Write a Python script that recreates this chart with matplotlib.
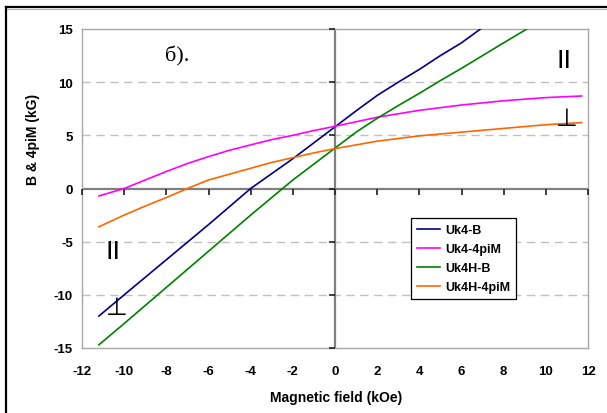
import matplotlib
matplotlib.use("Agg")
import matplotlib.pyplot as plt
from matplotlib.lines import Line2D

plt.rcParams['font.family'] = ['Liberation Sans', 'DejaVu Sans']
plt.rcParams['axes.unicode_minus'] = False

# data (field in kOe, B / 4piM in kG)
uk4_b_x = [-11.2, -10, -9, -8, -7, -6, -5, -4, -3, -2, -1, 0, 1, 2, 3, 4, 5, 6, 6.9]
uk4_b_y = [-12.0, -10.0, -8.35, -6.7, -5.05, -3.4, -1.7, 0.0, 1.4, 2.8, 4.3, 5.8, 7.3,
           8.75, 10.0, 11.2, 12.5, 13.7, 15.0]

uk4_m_x = [-11.2, -10, -9, -8, -7, -6, -5, -4, -3, -2, -1, 0, 2, 4, 6, 8, 10, 11.7]
uk4_m_y = [-0.7, 0.0, 0.8, 1.6, 2.35, 3.0, 3.6, 4.1, 4.6, 5.0, 5.45, 5.85, 6.7, 7.35,
           7.85, 8.25, 8.55, 8.7]

uk4h_b_x = [-11.2, -10, -9, -8, -7, -6, -5, -4, -3, -2, -1, 0, 1, 2, 3, 4, 5, 6, 7, 8, 9.1]
uk4h_b_y = [-14.7, -12.7, -11.0, -9.3, -7.6, -5.9, -4.2, -2.5, -0.85, 0.8, 2.3, 3.8, 5.3,
            6.6, 7.8, 8.95, 10.15, 11.3, 12.5, 13.7, 15.0]

uk4h_m_x = [-11.2, -10, -9, -8, -7, -6, -5, -4, -3, -2, -1, 0, 2, 4, 6, 8, 10, 11.7]
uk4h_m_y = [-3.6, -2.5, -1.65, -0.85, 0.0, 0.8, 1.35, 1.9, 2.45, 2.9, 3.35, 3.75, 4.45,
            4.95, 5.3, 5.65, 6.0, 6.2]

labels = ['Uk4-B', 'Uk4-4piM', 'Uk4H-B', 'Uk4H-4piM']
colors = ['#000080', '#FF00FF', '#008000', '#FF6600']

x_ticks = list(range(-12, 13, 2))
y_ticks = list(range(-15, 16, 5))
grid_y = [-10, -5, 5, 10]

fig = plt.figure(figsize=(6.07, 4.14), dpi=100)
W, H = 607, 414
ax = fig.add_axes([82 / W, 1 - 349 / H, (588 - 82) / W, (349 - 30) / H])

for gy in grid_y:
    ax.axhline(gy, color='#C0C0C0', lw=1, ls=(0, (6, 4)), zorder=1)

ax.axhline(0, color='#808080', lw=1.6, zorder=2)
ax.axvline(0, color='#808080', lw=1.6, zorder=2)
# small tick marks on the zero axes
ax.plot(x_ticks, [0] * len(x_ticks), ls='none', marker=3, ms=4, mew=1.2,
        color='#202020', zorder=3, clip_on=False)
ax.plot([0] * len(y_ticks), y_ticks, ls='none', marker=0, ms=4, mew=1.2,
        color='#202020', zorder=3, clip_on=False)

series = [(uk4_b_x, uk4_b_y), (uk4_m_x, uk4_m_y), (uk4h_b_x, uk4h_b_y), (uk4h_m_x, uk4h_m_y)]
for (xs, ys), lab, c in zip(series, labels, colors):
    ax.plot(xs, ys, color=c, lw=1.2, label=lab, zorder=4)

ax.set_xlim(-12, 12)
ax.set_ylim(-15, 15)
ax.set_xticks(x_ticks)
ax.set_yticks(y_ticks)
ax.tick_params(axis='x', length=0, pad=12, labelsize=9.5)
ax.tick_params(axis='y', length=0, pad=6.5, labelsize=9.5)
for t in ax.get_xticklabels() + ax.get_yticklabels():
    t.set_fontweight('bold')
for s in ax.spines.values():
    s.set_color('#A8A8A8')
    s.set_linewidth(1)

leg = ax.legend(loc='upper left', bbox_to_anchor=(411 / W, 1 - 219 / H),
                bbox_transform=fig.transFigure, fancybox=False, framealpha=1,
                edgecolor='black', prop={'weight': 'bold', 'size': 9},
                handlelength=1.8, handletextpad=0.4, labelspacing=0.55,
                borderpad=0.5, borderaxespad=0)
leg.get_frame().set_linewidth(0.9)

# annotations
fig.text(177 / W, 1 - 56 / H, 'б).', fontsize=16, family='Liberation Serif',
         ha='center', va='center')
fig.text(564 / W, 1 - 61 / H, 'II', fontsize=18, family='DejaVu Sans', ha='center', va='center')
fig.text(113 / W, 1 - 252 / H, 'II', fontsize=18, family='DejaVu Sans', ha='center', va='center')
fig.text(567 / W, 1 - 119 / H, '⊥', fontsize=18, family='DejaVu Sans', ha='center', va='center')
fig.text(117 / W, 1 - 308 / H, '⊥', fontsize=18, family='DejaVu Sans', ha='center', va='center')

fig.text(336 / W, 1 - 398 / H, 'Magnetic field (kOe)', fontsize=10, fontweight='bold',
         ha='center', va='center')
fig.text(33 / W, 1 - 139 / H, 'B & 4piM (kG)', fontsize=10, fontweight='bold',
         ha='center', va='center', rotation=90)

# outer chart border (top and left visible)
fig.add_artist(Line2D([6 / W, 1], [1 - 8 / H, 1 - 8 / H], color='black', lw=1.6))
fig.add_artist(Line2D([6 / W, 1], [1 - 10 / H, 1 - 10 / H], color='#B0B0B0', lw=0.8))
fig.add_artist(Line2D([6 / W, 6 / W], [0, 1 - 8 / H], color='black', lw=1.6))

fig.savefig('out.png', dpi=100)
